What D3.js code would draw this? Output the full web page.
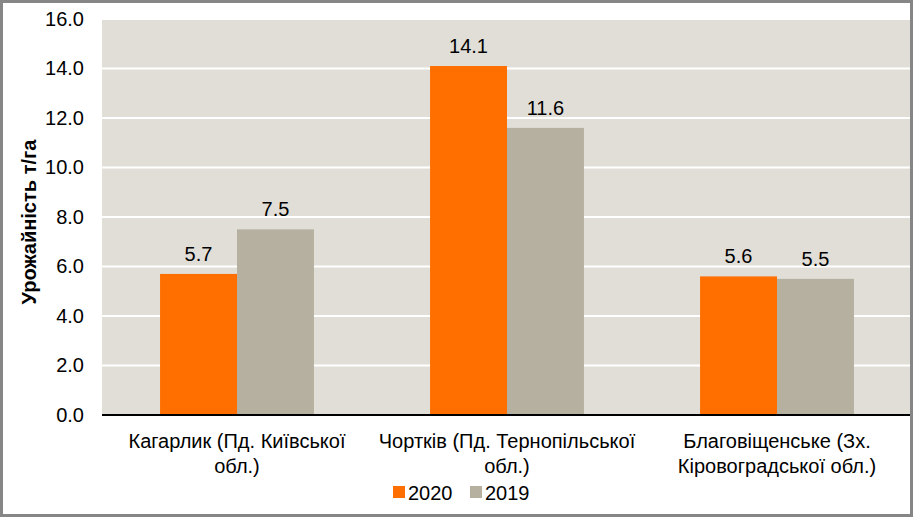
<!DOCTYPE html>
<html><head><meta charset="utf-8">
<script src="https://cdn.jsdelivr.net/npm/d3@7"></script>
<style>body{margin:0;background:#fff}svg{display:block;font-family:Arial,"Liberation Sans",sans-serif}</style>
</head><body><svg id="c" width="913" height="517"></svg>
<script>
const categories = [["Кагарлик (Пд. Київської", "обл.)"], ["Чортків (Пд. Тернопільської", "обл.)"], ["Благовіщенське (Зх.", "Кіровоградської обл.)"]];
const seriesNames = ["2020", "2019"];
const values2020 = [5.7, 14.1, 5.6];
const values2019 = [7.5, 11.6, 5.5];
const yTicks = [0, 2, 4, 6, 8, 10, 12, 14, 16];
const colors = ["#FF6F00", "#B5B09F"];

const svg = d3.select("#c");
const W = 913, H = 517;
const m = {l: 102, r: 1, t: 19, b: 102};
const x = d3.scaleBand().domain(d3.range(categories.length)).range([m.l, W - m.r]).paddingInner(0.43).paddingOuter(0.215);
const x1 = d3.scaleBand().domain(seriesNames).range([0, x.bandwidth()]);
const y = d3.scaleLinear().domain([0, 16]).range([H - m.b, m.t]);

svg.append("rect").attr("x", m.l).attr("y", m.t).attr("width", W - m.r - m.l).attr("height", H - m.b - m.t).attr("fill", "#E1DED8");

svg.append("g").selectAll("line").data(yTicks.slice(1)).join("line")
  .attr("x1", m.l).attr("x2", W - m.r).attr("y1", d => y(d)).attr("y2", d => y(d))
  .attr("stroke", "#fff").attr("stroke-width", 2);

const yAxis = svg.append("g").attr("transform", `translate(${m.l},0)`)
  .call(d3.axisLeft(y).tickValues(yTicks).tickFormat(d3.format(".1f")).tickSize(0).tickPadding(18));
yAxis.select(".domain").remove();
yAxis.selectAll("text").attr("font-size", 20).attr("fill", "#000").attr("font-family", "Arial, 'Liberation Sans', sans-serif");

const series = [values2020, values2019];
series.forEach((vals, si) => {
  const g = svg.append("g");
  g.selectAll("rect").data(vals).join("rect")
    .attr("x", (d, i) => x(i) + x1(seriesNames[si]))
    .attr("width", x1.bandwidth())
    .attr("y", d => y(d)).attr("height", d => y(0) - y(d))
    .attr("fill", colors[si]);
  g.selectAll("text").data(vals).join("text")
    .attr("x", (d, i) => x(i) + x1(seriesNames[si]) + x1.bandwidth() / 2)
    .attr("y", d => y(d) - 13)
    .attr("text-anchor", "middle").attr("font-size", 20).attr("fill", "#000")
    .text(d => d3.format(".1f")(d));
});

svg.append("line").attr("x1", m.l).attr("x2", W - m.r).attr("y1", y(0)).attr("y2", y(0)).attr("stroke", "#000").attr("stroke-width", 2);

const xl = svg.append("g");
categories.forEach((lines, i) => {
  const t = xl.append("text").attr("text-anchor", "middle").attr("font-size", 20).attr("fill", "#000");
  lines.forEach((ln, j) => t.append("tspan").attr("x", x(i) + x.bandwidth() / 2).attr("y", y(0) + 33 + j * 25).text(ln));
});

svg.append("text").attr("transform", `translate(36,${(m.t + H - m.b) / 2 + 5}) rotate(-90)`)
  .attr("text-anchor", "middle").attr("font-size", 20).attr("font-weight", "bold").attr("fill", "#000")
  .text("Урожайність т/га");

const leg = svg.append("g");
const legX = [393, 470];
seriesNames.forEach((n, i) => {
  leg.append("rect").attr("x", legX[i]).attr("y", 486).attr("width", 12).attr("height", 12).attr("fill", colors[i]);
  leg.append("text").attr("x", legX[i] + 15).attr("y", 500).attr("font-size", 20).attr("fill", "#000").text(n);
});

svg.append("rect").attr("x", 1.5).attr("y", 1.5).attr("width", W - 3).attr("height", H - 3).attr("fill", "none").attr("stroke", "#868686").attr("stroke-width", 3);
</script></body></html>
